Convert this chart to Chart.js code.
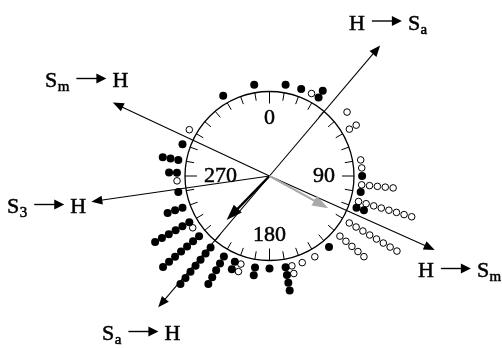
<!DOCTYPE html>
<html><head><meta charset="utf-8">
<script src="https://cdn.jsdelivr.net/npm/chart.js@4"></script>
<style>html,body{margin:0;padding:0;background:#fff;overflow:hidden}canvas{display:block}</style>
</head><body>
<canvas id="c" width="502" height="348"></canvas>
<script>
// ---- data: orientation (deg, clockwise from 0 = up) and number of stacked points ----
const filledAngles = [330, 350.5, 10, 20, 32, 90, 100, 110, 140, 170, 180, 189, 202, 209.5, 219.5, 229.5, 240, 250, 260, 272, 280, 290];
const filledCounts = [1, 1, 1, 1, 2, 1, 1, 2, 1, 4, 1, 2, 2, 5, 7, 7, 6, 3, 1, 2, 3, 1];
const openAngles   = [27, 50.5, 59.6, 80, 85, 95.5, 106, 120.5, 130.5, 150.7, 159.3, 166, 198, 236, 267, 300];
const openCounts   = [1, 1, 2, 1, 1, 5, 8, 8, 5, 1, 1, 2, 2, 1, 1, 1];
const openStart    = [0, 1, 0, 0, 0, 0, 0, 0, 0, 0, 0, 0, 0, 0, 0, 0];
const tickLabels = ['0', '90', '180', '270'];
const tickLabelAngles = [0, 90, 180, 270];
// direction axes (rays from the centre) and their labels
const rayAngles  = [40.3, 220.3, 295.1, 114.1, 261.8];
const rayLengths = [171, 172, 173, 181, 180];
const axisLabelParts = [
  ['H', '', 'S', 'a'],
  ['S', 'm', 'H', ''],
  ['S', '3', 'H', ''],
  ['H', '', 'S', 'm'],
  ['S', 'a', 'H', '']
];
// mean vectors
const meanAngles  = [224.2, 118.8];
const meanLengths = [61.5, 67];

// ---- layout ----
const R = 84.5, D0 = 92.6, STEP = 7.9;
const tickLabelDist = [58, 54.5, 59, 49];
const axisLabelAnchors = [[349, 29.5], [45, 87], [7, 213], [418, 277], [102, 340]];
const SERIF = '"Liberation Serif", "DejaVu Serif", serif';

function polar(a, d) { const t = a * Math.PI / 180; return { x: d * Math.sin(t), y: d * Math.cos(t) }; }
function stackPoints(angles, counts, starts) {
  const pts = [];
  angles.forEach((a, i) => {
    const s = starts ? starts[i] : 0;
    for (let k = 0; k < counts[i]; k++) pts.push(polar(a, D0 + (s + k) * STEP));
  });
  return pts;
}
function head(ctx, tx, ty, ux, uy, len, hw) {
  const bx = tx - ux * len, by = ty - uy * len;
  ctx.beginPath();
  ctx.moveTo(tx, ty);
  ctx.lineTo(bx - uy * hw, by + ux * hw);
  ctx.lineTo(bx + uy * hw, by - ux * hw);
  ctx.closePath();
  ctx.fill();
}
function arrowFrom(ctx, x1, y1, x2, y2, len, hw) {
  const L = Math.hypot(x2 - x1, y2 - y1), ux = (x2 - x1) / L, uy = (y2 - y1) / L;
  ctx.beginPath(); ctx.moveTo(x1, y1); ctx.lineTo(x2 - ux * len * 0.7, y2 - uy * len * 0.7); ctx.stroke();
  head(ctx, x2, y2, ux, uy, len, hw);
}
function boldText(ctx, t, x, y) { ctx.fillText(t, x, y); ctx.strokeText(t, x, y); }

const overlay = {
  id: 'overlay',
  beforeDatasetsDraw(chart) {
    const ctx = chart.ctx, xs = chart.scales.x, ys = chart.scales.y;
    const P = p => [xs.getPixelForValue(p.x), ys.getPixelForValue(p.y)];
    const [cx, cy] = P({ x: 0, y: 0 });
    ctx.save();
    ctx.strokeStyle = '#000'; ctx.fillStyle = '#000';
    ctx.lineWidth = 1.3;
    ctx.beginPath(); ctx.arc(cx, cy, xs.getPixelForValue(R) - cx, 0, 2 * Math.PI); ctx.stroke();
    ctx.lineWidth = 1;
    for (let a = 0; a < 360; a += 10) {
      const len = a % 90 === 0 ? 12 : 8;
      const [x1, y1] = P(polar(a, R)), [x2, y2] = P(polar(a, R - len));
      ctx.beginPath(); ctx.moveTo(x1, y1); ctx.lineTo(x2, y2); ctx.stroke();
    }
    ctx.font = '22px ' + SERIF; ctx.textAlign = 'center'; ctx.textBaseline = 'middle';
    ctx.lineWidth = 0.5;
    tickLabels.forEach((t, i) => {
      const [x, y] = P(polar(tickLabelAngles[i], tickLabelDist[i]));
      boldText(ctx, t, x, y);
    });
    ctx.lineWidth = 1.1;
    rayAngles.forEach((a, i) => {
      const [x, y] = P(polar(a, rayLengths[i]));
      arrowFrom(ctx, cx, cy, x, y, 11, 4.5);
    });
    ctx.restore();
  },
  afterDatasetsDraw(chart) {
    const ctx = chart.ctx, xs = chart.scales.x, ys = chart.scales.y;
    const P = p => [xs.getPixelForValue(p.x), ys.getPixelForValue(p.y)];
    const [cx, cy] = P({ x: 0, y: 0 });
    ctx.save();
    const colors = ['#000', '#a9a9a9'], widths = [2.4, 2.2];
    meanAngles.forEach((a, i) => {
      ctx.strokeStyle = colors[i]; ctx.fillStyle = colors[i]; ctx.lineWidth = widths[i];
      const [x, y] = P(polar(a, meanLengths[i]));
      arrowFrom(ctx, cx, cy, x, y, 16, 5.5);
    });
    ctx.fillStyle = '#000'; ctx.strokeStyle = '#000';
    ctx.textAlign = 'left'; ctx.textBaseline = 'alphabetic';
    const main = '22px ' + SERIF, sub = '15px ' + SERIF;
    axisLabelParts.forEach((parts, i) => {
      let [x, base] = axisLabelAnchors[i];
      const piece = (m, s) => {
        ctx.lineWidth = 0.5;
        ctx.font = main; boldText(ctx, m, x, base); x += ctx.measureText(m).width;
        if (s) { ctx.font = sub; boldText(ctx, s, x + 0.5, base + 4); x += ctx.measureText(s).width + 0.5; }
      };
      piece(parts[0], parts[1]);
      x += 7;
      const ay = base - 8.5;
      ctx.lineWidth = 1.4;
      ctx.beginPath(); ctx.moveTo(x, ay); ctx.lineTo(x + 22, ay); ctx.stroke();
      head(ctx, x + 30, ay, 1, 0, 10, 5);
      x += 36;
      piece(parts[2], parts[3]);
    });
    ctx.restore();
  }
};

new Chart(document.getElementById('c'), {
  type: 'scatter',
  data: {
    datasets: [
      { label: 'filled', data: stackPoints(filledAngles, filledCounts), pointRadius: 4,
        backgroundColor: '#000', borderColor: '#000', borderWidth: 0, clip: false },
      { label: 'open', data: stackPoints(openAngles, openCounts, openStart), pointRadius: 3.3,
        backgroundColor: '#fff', borderColor: '#000', borderWidth: 1, clip: false }
    ]
  },
  options: {
    responsive: false, animation: false, devicePixelRatio: 1,
    layout: { padding: 0, autoPadding: false },
    scales: {
      x: { type: 'linear', min: -269.5, max: 232.5, display: false },
      y: { type: 'linear', min: -172, max: 176, display: false }
    },
    plugins: { legend: { display: false }, tooltip: { enabled: false } },
    events: []
  },
  plugins: [overlay]
});
</script>
</body></html>
